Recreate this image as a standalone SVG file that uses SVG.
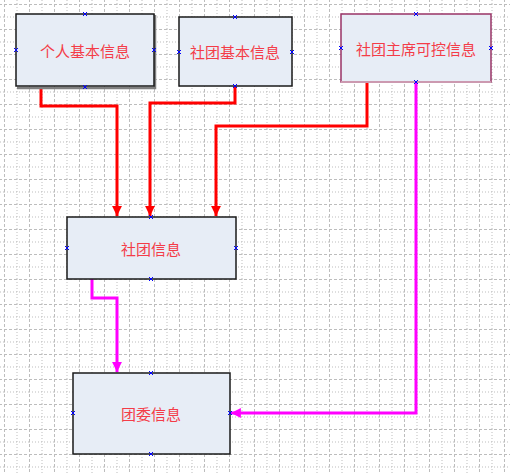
<svg xmlns="http://www.w3.org/2000/svg" width="510" height="473" viewBox="0 0 510 473">
<style>
.node rect{fill:#e7edf6;stroke:#1a1a1a;stroke-width:1.5}
.node text{font-family:"Noto Sans CJK SC","Noto Sans",sans-serif;font-size:15px;fill:#f43c48;text-anchor:middle;dominant-baseline:central}
.pt{stroke:#0000ff;stroke-width:1;fill:none}
.red{stroke:#ff0000;stroke-width:3;fill:none}
.mag{stroke:#ff00ff;stroke-width:3;fill:none}
.redh{stroke:#ff9090;stroke-width:5;fill:none;opacity:0.5}
.magh{stroke:#ff90ff;stroke-width:5;fill:none;opacity:0.5}
</style>
<defs>
<pattern id="grid" patternUnits="userSpaceOnUse" x="4" y="4" width="25" height="25">
<path d="M0 0.5H25M0 0.5" stroke="#bdbdbd" stroke-width="1" stroke-dasharray="3,2"/>
<path d="M0 13H25" stroke="#bdbdbd" stroke-width="1" stroke-dasharray="1,2"/>
<path d="M0.5 0V25" stroke="#bdbdbd" stroke-width="1" stroke-dasharray="3,2"/>
<path d="M13 0V25" stroke="#bdbdbd" stroke-width="1" stroke-dasharray="1,2"/>
</pattern>
<marker id="ar" viewBox="0 0 10 10" refX="10" refY="5" markerWidth="4" markerHeight="3.3" orient="auto" markerUnits="strokeWidth">
<path d="M0 0L10 5L0 10z" fill="#ff0000"/>
</marker>
<marker id="am" viewBox="0 0 10 10" refX="10" refY="5" markerWidth="4" markerHeight="3.3" orient="auto" markerUnits="strokeWidth">
<path d="M0 0L10 5L0 10z" fill="#ff00ff"/>
</marker>
</defs>
<rect width="510" height="473" fill="#ffffff"/>
<rect width="510" height="473" fill="url(#grid)"/>
<g id="connectors">
<path class="red" d="M41 87V106H117V216" marker-end="url(#ar)"/>
<path class="red" d="M235 86V103H150V216" marker-end="url(#ar)"/>
<path class="red" d="M367 82V126H216V216" marker-end="url(#ar)"/>
<path class="mag" d="M92 279V298H117V372" marker-end="url(#am)"/>
<path class="mag" d="M416 82V413H231" marker-end="url(#am)"/>
</g>
<g id="n1" class="node">
<path d="M155 15V88H17" stroke="#808080" stroke-width="2.5" fill="none"/>
<rect x="16" y="14" width="138" height="72"/>
<text x="85" y="50">个人基本信息</text>
</g>
<g id="n2" class="node">
<rect x="179" y="17" width="113" height="69"/>
<text x="235" y="51">社团基本信息</text>
</g>
<g id="n3" class="node">
<rect x="341" y="14" width="150" height="68" style="stroke:#993366"/>
<path d="M341 82H491" stroke="#cc99b0" stroke-width="2" fill="none"/>
<text x="416" y="48">社团主席可控信息</text>
</g>
<g id="n4" class="node">
<rect x="67" y="217" width="169" height="62"/>
<text x="151" y="248">社团信息</text>
</g>
<g id="n5" class="node">
<rect x="73" y="373" width="157" height="81"/>
<text x="151" y="413">团委信息</text>
</g>
<g id="points" class="pt">
<path d="M83 12l4 4M87 12l-4 4M83 85l4 4M87 85l-4 4M14 48l4 4M18 48l-4 4M152 48l4 4M156 48l-4 4"/>
<path d="M233 15l4 4M237 15l-4 4M233 84l4 4M237 84l-4 4M177 50l4 4M181 50l-4 4M290 50l4 4M294 50l-4 4"/>
<path d="M414 12l4 4M418 12l-4 4M414 80l4 4M418 80l-4 4M339 46l4 4M343 46l-4 4M489 46l4 4M493 46l-4 4"/>
<path d="M149 215l4 4M153 215l-4 4M149 277l4 4M153 277l-4 4M65 246l4 4M69 246l-4 4M234 246l4 4M238 246l-4 4"/>
<path d="M149 371l4 4M153 371l-4 4M149 452l4 4M153 452l-4 4M71 411l4 4M75 411l-4 4M228 411l4 4M232 411l-4 4"/>
</g>
</svg>
